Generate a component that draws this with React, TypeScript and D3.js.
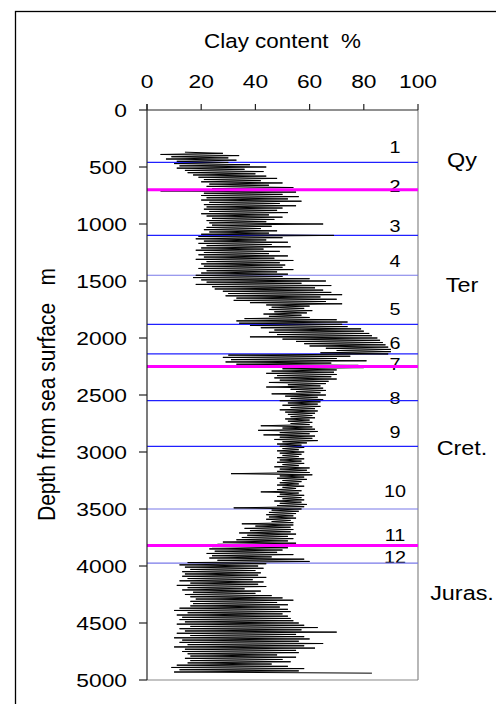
import React from "react";
import * as d3 from "d3";

// ---- data ----
const xTicks = [0, 20, 40, 60, 80, 100];
const yTicks = [0, 500, 1000, 1500, 2000, 2500, 3000, 3500, 4000, 4500, 5000];

// clay content (%) sampled every 10 m starting at 370 m
const clayTopDepth = 370;
const clayStep = 10;
const clayValues = [
  14,28,5,34,9,30,7,33,11,30,
  10,38,12,44,11,36,14,43,15,40,
  17,44,19,48,21,42,20,50,23,45,
  22,54,24,46,5,55,21,50,20,56,
  22,52,20,57,23,49,21,55,22,50,
  21,48,23,52,20,45,22,50,24,47,
  22,44,23,65,24,46,22,42,21,48,
  23,45,20,69,19,50,18,44,21,52,
  19,46,22,53,20,43,18,49,21,45,
  19,52,21,47,18,54,22,49,20,51,
  21,50,19,54,22,48,20,52,18,50,
  17,60,20,66,22,57,18,68,24,62,
  25,65,28,68,30,72,29,64,33,70,
  32,66,38,72,44,60,46,58,45,61,
  47,59,43,57,45,60,36,70,33,74,
  34,72,38,74,42,79,47,80,45,82,
  48,83,38,85,50,86,55,87,58,88,
  60,89,66,90,70,90,64,89,30,75,
  28,70,31,81,29,68,33,78,45,80,
  50,70,46,69,44,70,48,68,47,70,
  49,67,45,66,52,64,44,65,53,66,
  55,64,46,66,51,63,53,65,49,64,
  52,63,50,64,53,62,49,63,51,62,
  52,61,53,62,51,60,52,61,53,60,
  42,61,50,62,41,63,49,60,43,62,
  49,61,47,63,50,59,48,57,49,58,
  50,56,48,58,49,57,50,56,48,58,
  49,57,48,58,50,56,47,60,49,59,
  48,60,31,61,49,58,48,59,50,57,
  49,56,48,58,50,55,48,57,42,56,
  49,58,48,57,50,58,47,57,49,59,
  48,58,32,57,46,56,45,55,44,54,
  45,55,44,53,46,54,35,54,40,53,
  36,54,38,53,34,55,37,52,35,54,
  33,52,28,55,26,54,24,52,23,50,
  25,48,22,54,24,46,23,58,26,60,
  15,44,12,41,14,43,16,40,13,42,
  14,41,13,44,15,39,12,43,16,41,
  11,44,15,36,13,42,17,40,14,46,
  16,50,18,54,16,48,17,52,16,49,
  12,52,10,53,15,50,11,52,13,53,
  12,54,14,56,11,58,16,63,12,57,
  14,70,11,55,16,58,10,60,13,56,
  12,65,15,58,10,62,14,55,13,56,
  15,48,16,55,14,50,16,53,15,46,
  11,52,9,58,12,56,10,83,
];

// unit boundaries (depth m) and kind
const boundaryDepths = [460, 700, 1100, 1450, 1880, 2140, 2250, 2550, 2950, 3500, 3820, 3975];
const boundaryKinds = ["minor", "major", "minor", "faint", "minor", "minor", "major", "minor", "minor", "faint", "major", "faint"];

// unit numbers and their label depths
const unitLabels = ["1", "2", "3", "4", "5", "6", "7", "8", "9", "10", "11", "12"];
const unitLabelDepths = [377, 717, 1070, 1375, 1798, 2095, 2280, 2579, 2877, 3392, 3778, 3971];

// stratigraphic periods
const periodLabels = ["Qy", "Ter", "Cret.", "Juras."];
const periodDepths = [504, 1596, 3026, 4298];

// ---- layout ----
const W = 496, H = 704;
const plotLeft = 147, plotRight = 418, plotTop = 110, plotBottom = 680;
const FONT = "'Liberation Sans', Arial, Helvetica, sans-serif";
const SX = 1.2;
const NB = "\u00a0";

const boundaryStyle: Record<string, { stroke: string; width: number }> = {
  minor: { stroke: "#2020ff", width: 1.2 },
  faint: { stroke: "#7878e8", width: 1.1 },
  major: { stroke: "#ff00ff", width: 3 },
};

export default function App() {
  const x = d3.scaleLinear().domain([0, 100]).range([plotLeft, plotRight]);
  const y = d3.scaleLinear().domain([0, 5000]).range([plotTop, plotBottom]);

  const pts: [number, number][] = clayValues.map((v, i) => [clayTopDepth + i * clayStep, v]);
  const line = d3.line<[number, number]>().x((p) => x(p[1])).y((p) => y(p[0]));
  const pathD = line(pts) || "";

  const txt = (
    key: string,
    tx: number,
    ty: number,
    s: string,
    size: number,
    anchor: string,
    sx = SX
  ) => (
    <text
      key={key}
      transform={`translate(${tx},${ty}) scale(${sx},1)`}
      fontSize={size}
      textAnchor={anchor as any}
      fontFamily={FONT}
      fill="#000"
    >
      {s}
    </text>
  );

  const bLine = (d: number, i: number) => {
    const st = boundaryStyle[boundaryKinds[i]];
    return (
      <line key={"b" + i} x1={plotLeft} x2={plotRight} y1={y(d)} y2={y(d)} stroke={st.stroke} strokeWidth={st.width} />
    );
  };

  return (
    <svg
      width={W}
      height={H}
      style={{ position: "absolute", left: 0, top: 0, display: "block", background: "#fff" }}
    >
      {/* outer frame (left & top only visible) */}
      <rect x={15.5} y={11.5} width={600} height={800} fill="none" stroke="#000" strokeWidth={1.3} />

      {/* plot frame */}
      <line x1={plotRight} x2={plotRight} y1={plotTop} y2={plotBottom} stroke="#888" strokeWidth={1.2} />
      <line x1={plotLeft} x2={plotRight} y1={plotBottom} y2={plotBottom} stroke="#888" strokeWidth={1.2} />

      {/* unit numbers */}
      {unitLabels.map((s, i) => txt("u" + i, 395, y(unitLabelDepths[i]), s, 16.5, "middle"))}

      {/* blue boundaries */}
      {boundaryDepths.map((d, i) => (boundaryKinds[i] !== "major" ? bLine(d, i) : null))}

      {/* clay log */}
      <path d={pathD} fill="none" stroke="#000" strokeWidth={1} />

      {/* magenta boundaries */}
      {boundaryDepths.map((d, i) => (boundaryKinds[i] === "major" ? bLine(d, i) : null))}

      {/* top axis */}
      <line x1={plotLeft} x2={plotRight} y1={plotTop} y2={plotTop} stroke="#222" strokeWidth={1.2} />
      {xTicks.map((t) => (
        <line key={"xt" + t} x1={x(t)} x2={x(t)} y1={plotTop - 6} y2={plotTop} stroke="#222" strokeWidth={1.2} />
      ))}
      {xTicks.map((t) => txt("xl" + t, x(t), 88, String(t), 19, "middle"))}
      {txt("xtitle", (plotLeft + plotRight) / 2, 48, `Clay content${NB}${NB}%`, 19.5, "middle", 1.15)}

      {/* left axis */}
      <line x1={plotLeft} x2={plotLeft} y1={plotTop - 6} y2={plotBottom} stroke="#222" strokeWidth={1.2} />
      {yTicks.map((t) => (
        <line key={"yt" + t} x1={plotLeft - 8} x2={plotLeft} y1={y(t)} y2={y(t)} stroke="#222" strokeWidth={1.2} />
      ))}
      {yTicks.map((t) => txt("yl" + t, 127, y(t) + 7, String(t), 19, "end"))}
      <text
        transform={`translate(55,394.5) rotate(-90) scale(1,1.15)`}
        fontSize={21}
        textAnchor="middle"
        fontFamily={FONT}
        fill="#000"
      >
        {`Depth from sea surface${NB}${NB}${NB}m`}
      </text>

      {/* periods */}
      {periodLabels.map((s, i) => txt("p" + i, 462, y(periodDepths[i]), s, 19.5, "middle"))}
    </svg>
  );
}
